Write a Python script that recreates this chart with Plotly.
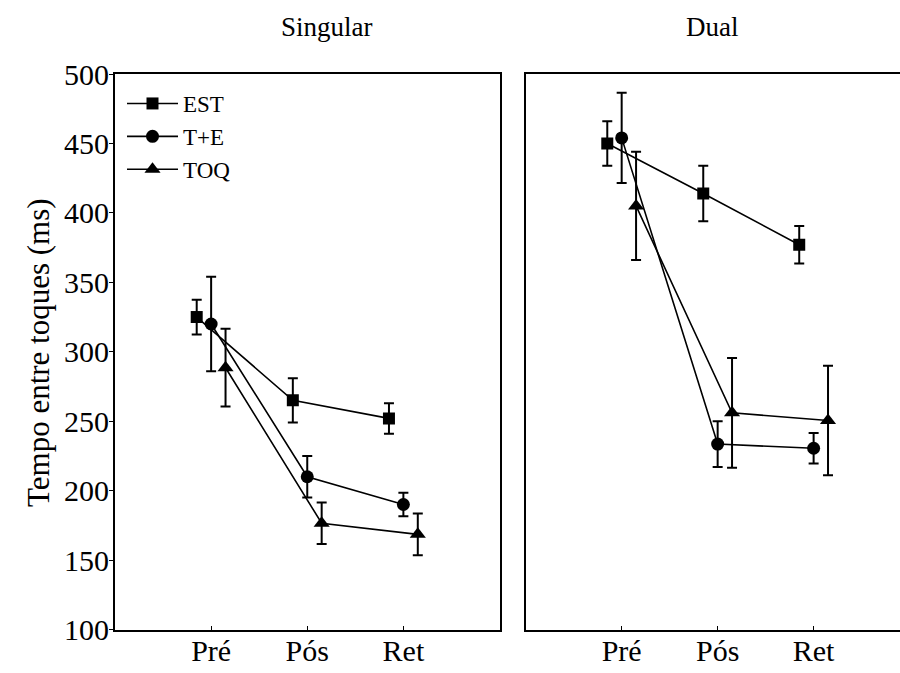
import plotly.graph_objects as go

categories = ["Pré", "Pós", "Ret"]
series_names = ["EST", "T+E", "TOQ"]

# Singular panel
sing_est = [325, 265, 252]
sing_est_err = [12.5, 16, 11]
sing_te = [320, 210, 190]
sing_te_err = [34, 15, 8.5]
sing_toq = [288.5, 176.5, 168.5]
sing_toq_err = [28, 15, 15]

# Dual panel
dual_est = [450, 414, 377]
dual_est_err = [16, 20, 13.5]
dual_te = [454, 233.5, 230.5]
dual_te_err = [32.5, 16.5, 11]
dual_toq = [405, 256, 250.5]
dual_toq_err = [39, 39.5, 39.5]

symbols = ["square", "circle", "triangle-up"]
sizes = [12, 13, 14]
offsets = [-0.15, 0.0, 0.15]
FONT = "Liberation Serif"

W, H = 900, 673
def px_x(p):
    return p / W
def px_y(p):
    return (H - p) / H

fig = go.Figure()

panels = [
    ("x", "y", [sing_est, sing_te, sing_toq], [sing_est_err, sing_te_err, sing_toq_err], True),
    ("x2", "y2", [dual_est, dual_te, dual_toq], [dual_est_err, dual_te_err, dual_toq_err], False),
]
for xa, ya, vals, errs, show in panels:
    for i, name in enumerate(series_names):
        xs = [k + 1 + offsets[i] for k in range(len(categories))]
        fig.add_trace(go.Scatter(
            x=xs, y=vals[i], xaxis=xa, yaxis=ya, name=name,
            mode="lines+markers", showlegend=show,
            line=dict(color="black", width=1.6),
            marker=dict(symbol=symbols[i], size=sizes[i], color="black"),
            error_y=dict(type="data", array=errs[i], visible=True,
                         color="black", thickness=2, width=5),
        ))

axis_common = dict(showgrid=False, zeroline=False, linecolor="black", linewidth=2,
                   automargin=False,
                   tickfont=dict(family=FONT, size=30, color="black"))

fig.update_layout(
    width=W, height=H,
    margin=dict(l=0, r=0, t=0, b=0, pad=0, autoexpand=False),
    paper_bgcolor="white", plot_bgcolor="white",
    font=dict(family=FONT, color="black"),
    xaxis=dict(domain=[px_x(115), px_x(499.5)], range=[0, 4],
               tickvals=[1, 2, 3], ticktext=categories,
               showline=True, mirror=True, ticks="inside", ticklen=4,
               ticklabelstandoff=-7,
               tickcolor="black", **axis_common),
    yaxis=dict(domain=[px_y(629.5), px_y(74)], range=[100, 500],
               tickvals=[100, 150, 200, 250, 300, 350, 400, 450, 500],
               showline=True, mirror=True, ticks="outside", ticklen=4,
               ticklabelstandoff=-6,
               tickcolor="black", **axis_common),
    xaxis2=dict(domain=[px_x(525.7), 1.0], range=[0, 3.9], anchor="y2",
                tickvals=[1, 2, 3], ticktext=categories,
                showline=True, mirror=True, ticks="inside", ticklen=4,
                ticklabelstandoff=-7,
                tickcolor="black", **axis_common),
    yaxis2=dict(domain=[px_y(629.5), px_y(74)], range=[100, 500], anchor="x2",
                showline=True, mirror=False, ticks="", showticklabels=False,
                **axis_common),
    legend=dict(x=px_x(122), y=px_y(82), xanchor="left", yanchor="top",
                font=dict(family=FONT, size=23, color="black"),
                bgcolor="rgba(0,0,0,0)", itemwidth=51, tracegroupgap=0),
    showlegend=True,
)

fig.add_annotation(text="Singular", x=px_x(327), y=px_y(27), xref="paper", yref="paper",
                   xanchor="center", yanchor="middle",
                   showarrow=False, font=dict(family=FONT, size=27, color="black"))
fig.add_annotation(text="Dual", x=px_x(712), y=px_y(27), xref="paper", yref="paper",
                   xanchor="center", yanchor="middle",
                   showarrow=False, font=dict(family=FONT, size=27, color="black"))
fig.add_annotation(text="Tempo entre toques (ms)", x=px_x(38), y=px_y(353),
                   xref="paper", yref="paper", textangle=-90, showarrow=False,
                   xanchor="center", yanchor="middle",
                   font=dict(family=FONT, size=31, color="black"))

fig.write_html("out.html")
